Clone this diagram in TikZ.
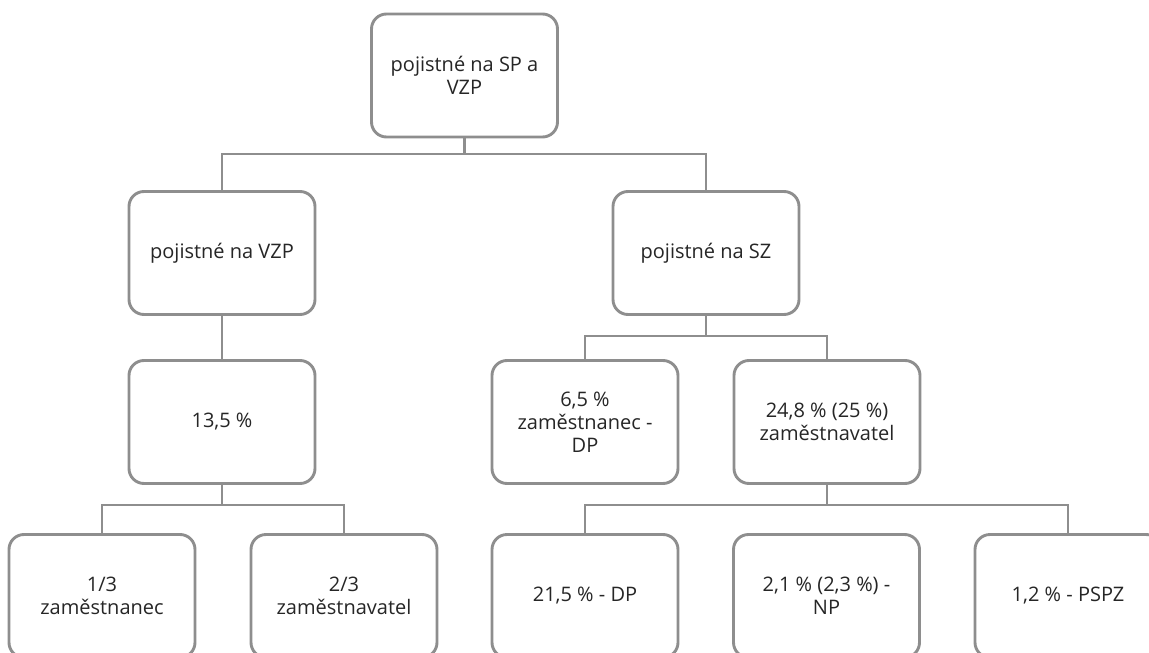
\documentclass[tikz,border=0pt]{standalone}
\usepackage{fontspec}
\setmainfont{Open Sans}
\definecolor{boxgray}{HTML}{8E8E8E}
\definecolor{txt}{HTML}{262626}
\begin{document}
\begin{tikzpicture}[x=1pt,y=-1pt,
  box/.style={draw=boxgray, line width=2.9pt, rounded corners=15pt, fill=white,
    minimum width=186pt, minimum height=123pt, align=center, inner sep=4pt,
    text=txt, font=\fontsize{20}{23}\selectfont},
  conn/.style={draw=boxgray, line width=2.9pt}]
\useasboundingbox (0,0) rectangle (1149,653);
\clip (0,0) rectangle (1149,653);
\fill[white] (0,0) rectangle (1149,653);
\coordinate (bus1) at (0,154);
\coordinate (bus2) at (0,336);
\coordinate (bus3) at (0,505);

\node[box] (top) at (464.5,75.5) {pojistné na SP a\\VZP};
\node[box] (vzp) at (222,253) {pojistné na VZP};
\node[box] (sz) at (706,253) {pojistné na SZ};
\node[box] (p135) at (222,422) {13,5 \%};
\node[box] (p65) at (585,422) {6,5 \%\\zaměstnanec -\\DP};
\node[box] (p248) at (827,422) {24,8 \% (25 \%)\\zaměstnavatel};
\node[box] (b13) at (102,596) {1/3\\zaměstnanec};
\node[box] (b23) at (344,596) {2/3\\zaměstnavatel};
\node[box] (b215) at (585,596) {21,5 \% - DP};
\node[box] (b21) at (826.5,596) {2,1 \% (2,3 \%) -\\NP};
\node[box] (b12) at (1068,596) {1,2 \% - PSPZ};

\draw[conn] (top.south) -- (top.south |- bus1);
\draw[conn] (vzp.north) -- (vzp.north |- bus1) -- (sz.north |- bus1) -- (sz.north);
\draw[conn] (vzp.south) -- (p135.north);
\draw[conn] (sz.south) -- (sz.south |- bus2);
\draw[conn] (p65.north) -- (p65.north |- bus2) -- (p248.north |- bus2) -- (p248.north);
\draw[conn] (p135.south) -- (p135.south |- bus3);
\draw[conn] (b13.north) -- (b13.north |- bus3) -- (b23.north |- bus3) -- (b23.north);
\draw[conn] (p248.south) -- (p248.south |- bus3);
\draw[conn] (b215.north) -- (b215.north |- bus3) -- (b12.north |- bus3) -- (b12.north);
\end{tikzpicture}
\end{document}
